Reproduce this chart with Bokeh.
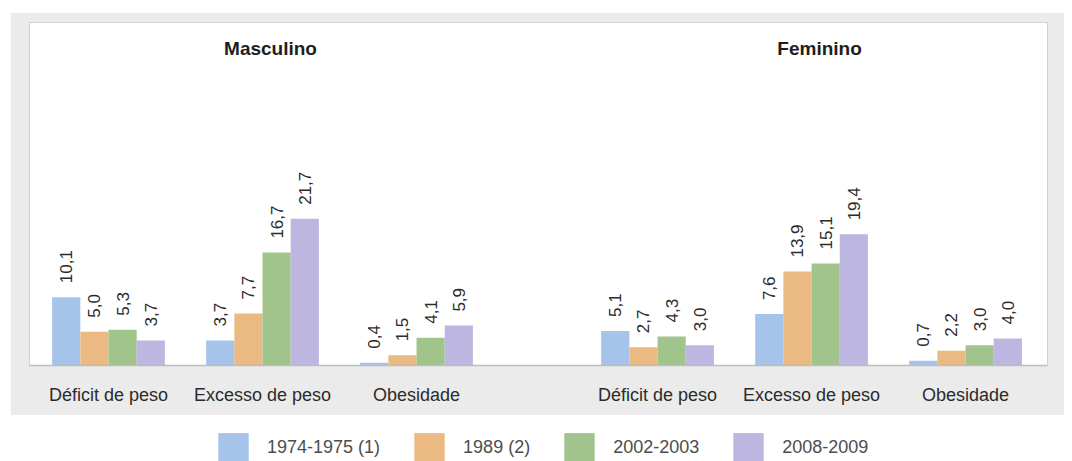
import math

from bokeh.core.properties import value
from bokeh.embed import file_html
from bokeh.layouts import column
from bokeh.models import (ColumnDataSource, FixedTicker, Legend, LegendItem,
                          Range1d)
from bokeh.plotting import figure
from bokeh.resources import INLINE

# ---- data -------------------------------------------------------------
sexes = ["Masculino", "Feminino"]
categories = ["Déficit de peso", "Excesso de peso", "Obesidade"]
years = ["1974-1975 (1)", "1989 (2)", "2002-2003", "2008-2009"]

# prevalence (%) per category, one list per survey period
masc_1974 = [10.1, 3.7, 0.4]
masc_1989 = [5.0, 7.7, 1.5]
masc_2002 = [5.3, 16.7, 4.1]
masc_2008 = [3.7, 21.7, 5.9]

fem_1974 = [5.1, 7.6, 0.7]
fem_1989 = [2.7, 13.9, 2.2]
fem_2002 = [4.3, 15.1, 3.0]
fem_2008 = [3.0, 19.4, 4.0]

series = {
    "Masculino": [masc_1974, masc_1989, masc_2002, masc_2008],
    "Feminino": [fem_1974, fem_1989, fem_2002, fem_2008],
}

colors = ["#a6c3ea", "#ebba83", "#a1c48d", "#bdb6e0"]

# ---- layout constants ---------------------------------------------------
SLOT = 1.0          # distance between category centres
SEX_GAP = 0.565     # extra space between the two panels
BAR_W = 0.183       # width of one bar
FONT = "Liberation Sans"
TEXT = "#2b2b2b"
PANEL = "#ebebeb"

Y_END = 50.74
sex_offset = [s * (len(categories) * SLOT + SEX_GAP) for s in range(len(sexes))]

p = figure(
    width=1054, height=403,
    x_range=Range1d(-0.513, 6.097), y_range=Range1d(0, Y_END),
    output_backend="svg", toolbar_location=None,
    y_axis_type=None,
    min_border_left=19, min_border_right=17, min_border_top=10, min_border_bottom=50,
)
p.margin = (12, 8, 0, 10)
p.background_fill_color = "white"
p.border_fill_color = PANEL
p.outline_line_color = "#d2d2d2"
p.grid.visible = False

# bars, one renderer per survey period
for j, (yr, col) in enumerate(zip(years, colors)):
    xs, tops, labels = [], [], []
    for s, sex in enumerate(sexes):
        vals = series[sex][j]
        for i, v in enumerate(vals):
            xs.append(sex_offset[s] + i * SLOT + (j - 1.5) * BAR_W)
            tops.append(v)
            labels.append(f"{v:.1f}".replace(".", ","))
    src = ColumnDataSource(dict(x=xs, top=tops, label=labels))
    p.vbar(x="x", top="top", bottom=0, width=BAR_W, source=src,
           fill_color=col, line_color=None)
    p.text(x="x", y="top", text="label", source=src, angle=math.pi / 2,
           text_align="left", text_baseline="middle", y_offset=-14,
           text_font=value(FONT), text_font_size="17px", text_color=TEXT)

# panel titles above each group of three categories
title_x = [off + SLOT for off in sex_offset]
p.text(x=title_x, y=[Y_END] * len(sexes), text=sexes,
       text_align="center", text_baseline="middle", x_offset=8, y_offset=26,
       text_font=value(FONT), text_font_style="bold", text_font_size="19px",
       text_color="#1e1e1e")

# category labels on the x axis
centres, overrides = [], {}
for off in sex_offset:
    for i, cat in enumerate(categories):
        c = off + i * SLOT
        centres.append(c)
        overrides[c] = cat
xa = p.xaxis[0]
xa.ticker = FixedTicker(ticks=centres)
xa.major_label_overrides = overrides
xa.major_tick_line_color = None
xa.minor_tick_line_color = None
xa.axis_line_color = "#bdbdbd"
xa.axis_line_width = 1.5
xa.major_label_standoff = 13
xa.major_label_text_font = FONT
xa.major_label_text_font_size = "18px"
xa.major_label_text_color = TEXT

# legend strip underneath the panel
lf = figure(width=1072, height=46, x_range=Range1d(0, 1), y_range=Range1d(0, 1),
            output_backend="svg", toolbar_location=None,
            x_axis_type=None, y_axis_type=None, min_border=0)
lf.outline_line_color = None
lf.grid.visible = False
lf.background_fill_color = "white"
lf.border_fill_color = "white"

# each legend entry needs a renderer; its bar lies below the visible range
items = []
for yr, col in zip(years, colors):
    r = lf.vbar(x=[0.5], top=[-2], bottom=[-3], width=0.1,
                fill_color=col, line_color=None)
    items.append(LegendItem(label=yr, renderers=[r]))

legend = Legend(items=items, orientation="horizontal", location=(195, -4),
                glyph_width=38, glyph_height=36, label_standoff=15, spacing=30,
                padding=0, margin=0, border_line_color=None,
                background_fill_alpha=0,
                label_text_font=FONT, label_text_font_size="18px",
                label_text_color="#4d4d4d")
lf.add_layout(legend)

layout = column(p, lf, spacing=0)

with open("out.html", "w") as f:
    f.write(file_html(layout, INLINE))
